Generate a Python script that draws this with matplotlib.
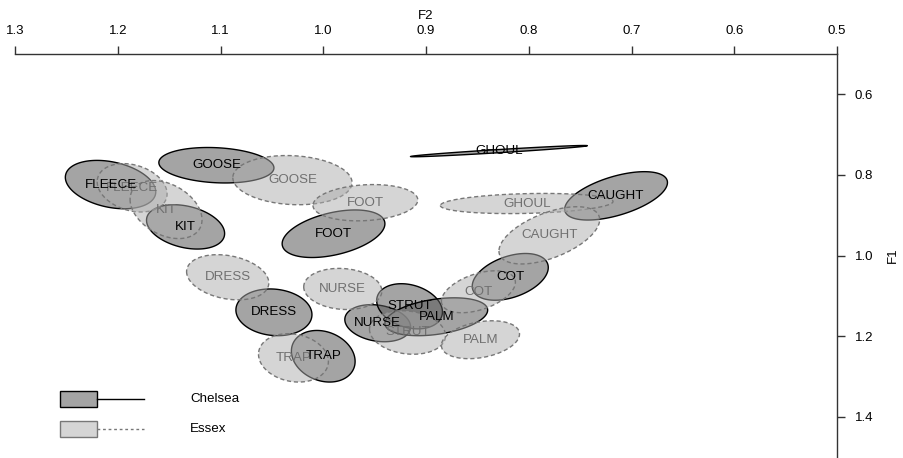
import numpy as np
import matplotlib
matplotlib.use("Agg")
import matplotlib.pyplot as plt
from matplotlib.patches import Rectangle
from matplotlib.lines import Line2D

plt.rcParams["font.family"] = ["Liberation Sans", "DejaVu Sans"]

# vowel categories (same order for both speakers)
vowels = ["FLEECE", "GOOSE", "KIT", "FOOT", "GHOUL", "CAUGHT",
          "COT", "DRESS", "NURSE", "STRUT", "PALM", "TRAP"]

# Chelsea: mean F2, mean F1, sd F2, sd F1, F2/F1 correlation
chelsea_f2 = [1.207, 1.104, 1.134, 0.990, 0.829, 0.715,
              0.818, 1.048, 0.947, 0.916, 0.890, 1.000]
chelsea_f1 = [0.824, 0.776, 0.929, 0.946, 0.741, 0.852,
              1.053, 1.141, 1.168, 1.126, 1.152, 1.250]
chelsea_sd2 = [0.044, 0.056, 0.038, 0.050, 0.086, 0.050,
               0.037, 0.037, 0.032, 0.032, 0.050, 0.031]
chelsea_sd1 = [0.060, 0.044, 0.055, 0.059, 0.014, 0.060,
               0.058, 0.058, 0.046, 0.056, 0.047, 0.064]
chelsea_r = [-0.3, -0.15, -0.3, 0.42, 0.96, 0.55,
             0.4, -0.1, -0.2, -0.25, 0.35, -0.2]

# Essex
essex_f2 = [1.186, 1.030, 1.153, 0.959, 0.802, 0.780,
            0.849, 1.093, 0.981, 0.918, 0.847, 1.029]
essex_f1 = [0.832, 0.813, 0.886, 0.869, 0.871, 0.950,
            1.090, 1.054, 1.083, 1.191, 1.209, 1.254]
essex_sd2 = [0.034, 0.058, 0.035, 0.051, 0.084, 0.049,
             0.036, 0.040, 0.038, 0.037, 0.038, 0.034]
essex_sd1 = [0.060, 0.061, 0.072, 0.045, 0.025, 0.071,
             0.052, 0.056, 0.051, 0.054, 0.047, 0.060]
essex_r = [-0.25, -0.1, -0.35, 0.15, 0.2, 0.55,
           0.45, -0.25, -0.1, -0.15, 0.3, -0.15]

f2_ticks = [1.3, 1.2, 1.1, 1.0, 0.9, 0.8, 0.7, 0.6, 0.5]
f1_ticks = [0.6, 0.8, 1.0, 1.2, 1.4]


def ellipse_points(mx, my, sx, sy, r, n=200):
    t = np.linspace(0, 2 * np.pi, n)
    x = mx + sx * np.cos(t)
    y = my + sy * (r * np.cos(t) + np.sqrt(1 - r * r) * np.sin(t))
    return x, y


W, H = 904, 458
fig = plt.figure(figsize=(W / 100, H / 100), dpi=100)
ax = fig.add_axes([15 / W, 1 / H, 822 / W, 403 / H])
ax.set_xlim(1.3, 0.5)
ax.set_ylim(1.5, 0.5)

chelsea_face = (0.35, 0.35, 0.35, 0.55)
essex_face = (0.68, 0.68, 0.68, 0.5)

for i in range(len(vowels)):
    x, y = ellipse_points(chelsea_f2[i], chelsea_f1[i], chelsea_sd2[i], chelsea_sd1[i], chelsea_r[i])
    ax.fill(x, y, facecolor=chelsea_face, edgecolor="black", linewidth=1.0, zorder=2)
for i in range(len(vowels)):
    x, y = ellipse_points(essex_f2[i], essex_f1[i], essex_sd2[i], essex_sd1[i], essex_r[i])
    ax.fill(x, y, facecolor=essex_face, edgecolor="#777777", linewidth=1.0,
            linestyle=(0, (3, 2)), zorder=2)

for i, v in enumerate(vowels):
    ax.text(essex_f2[i], essex_f1[i], v, ha="center", va="center",
            fontsize=9.6, color="#707070", zorder=3)
for i, v in enumerate(vowels):
    ax.text(chelsea_f2[i], chelsea_f1[i], v, ha="center", va="center",
            fontsize=9.6, color="black", zorder=4)

# axes on top and right, R style
for side in ["left", "bottom"]:
    ax.spines[side].set_visible(False)
for side in ["top", "right"]:
    ax.spines[side].set_color("#333333")
    ax.spines[side].set_linewidth(1.0)
ax.xaxis.set_ticks_position("top")
ax.xaxis.set_label_position("top")
ax.yaxis.set_ticks_position("right")
ax.yaxis.set_label_position("right")
ax.set_xticks(f2_ticks)
ax.set_xticklabels([f"{v:.1f}" for v in f2_ticks])
ax.set_yticks(f1_ticks)
ax.set_yticklabels([f"{v:.1f}" for v in f1_ticks])
ax.tick_params(axis="x", direction="out", length=5.8, width=1.0, pad=6.5,
               labelsize=9.5, color="#333333")
ax.tick_params(axis="y", direction="out", length=5.8, width=1.0, pad=7,
               labelsize=9.5, color="#333333")
ax.set_xlabel("F2", fontsize=9.5, labelpad=4)
ax.set_ylabel("F1", fontsize=9.5, labelpad=10)

# legend drawn by hand in figure pixels
def px(x, y):
    return x / W, 1 - y / H

legend_items = [("Chelsea", chelsea_face, "black", "-", 398.5),
                ("Essex", essex_face, "#777777", (0, (2, 2)), 428.5)]
for label, face, edge, ls, yc in legend_items:
    x0, y0 = px(60, yc + 8)
    fig.patches.append(Rectangle((x0, y0), 37 / W, 16 / H, transform=fig.transFigure,
                                 facecolor=face, edgecolor=edge, linewidth=1.0))
    xa, ya = px(97, yc)
    xb, _ = px(144, yc)
    fig.lines.append(Line2D([xa, xb], [ya, ya], transform=fig.transFigure,
                            color=edge, linewidth=1.0, linestyle=ls))
    tx, ty = px(190, yc)
    fig.text(tx, ty, label, ha="left", va="center", fontsize=9.6)

fig.savefig("out.png", dpi=100)
